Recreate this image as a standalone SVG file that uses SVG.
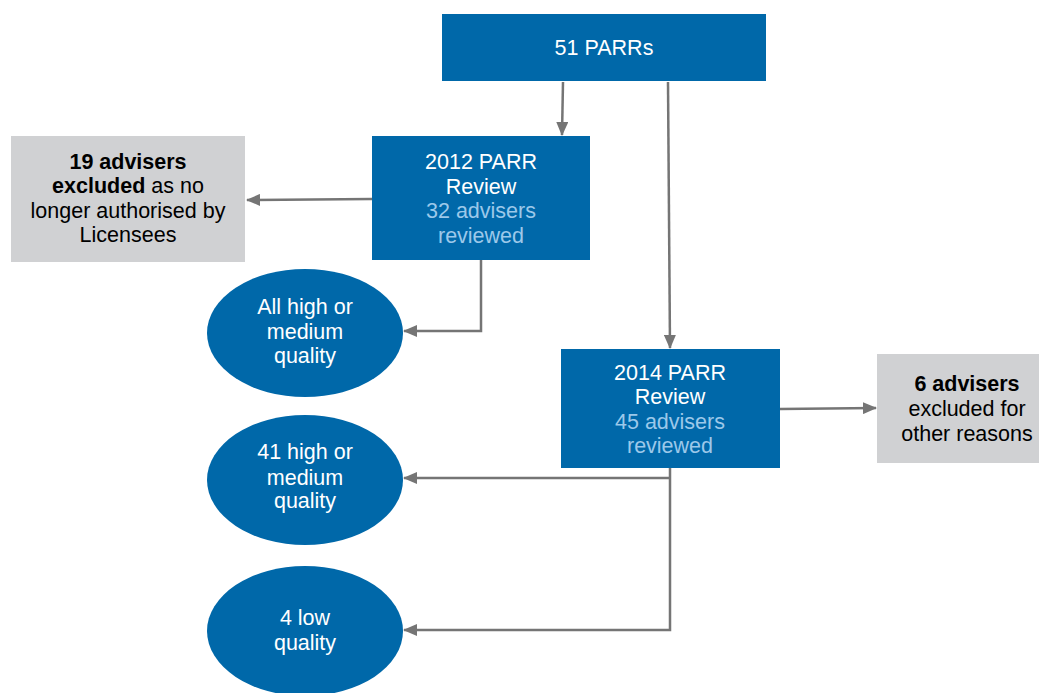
<svg xmlns="http://www.w3.org/2000/svg" width="1039" height="693" viewBox="0 0 1039 693">
<style>
.blue{fill:#0068A9}
.grey{fill:#D0D1D3}
.t{font-family:"Liberation Sans",Arial,sans-serif;font-size:21.5px;text-anchor:middle}
.w{fill:#FFFFFF}
.lb{fill:#9CC8EA}
.k{fill:#000000}
.b{font-weight:bold}
.c{fill:none;stroke:#757575;stroke-width:2.5}
</style>
<defs>
<marker id="ah" viewBox="0 0 14 12" refX="13" refY="6" markerWidth="14" markerHeight="12" markerUnits="userSpaceOnUse" orient="auto">
<path d="M0,0 L14,6 L0,12 Z" fill="#757575"/>
</marker>
</defs>
<rect width="1039" height="693" fill="#FFFFFF"/>
<g id="connectors">
<path class="c" d="M563,82 L562,135" marker-end="url(#ah)"/>
<path class="c" d="M668,82 L670,348" marker-end="url(#ah)"/>
<path class="c" d="M372,199 L247,200" marker-end="url(#ah)"/>
<path class="c" d="M481,260 L481,331 L404,331" marker-end="url(#ah)"/>
<path class="c" d="M780,409 L876,408" marker-end="url(#ah)"/>
<path class="c" d="M670,468 L670,630 L404,630" marker-end="url(#ah)"/>
<path class="c" d="M670,478 L404,478" marker-end="url(#ah)"/>
</g>
<g id="n51">
<rect class="blue" x="442" y="14" width="324" height="67"/>
<text class="t w" x="604" y="55">51 PARRs</text>
</g>
<g id="n2012">
<rect class="blue" x="372" y="136" width="218" height="124"/>
<text class="t w" x="481" y="169">2012 PARR</text>
<text class="t w" x="481" y="194">Review</text>
<text class="t lb" x="481" y="218">32 advisers</text>
<text class="t lb" x="481" y="243">reviewed</text>
</g>
<g id="nexcl19">
<rect class="grey" x="11" y="136" width="234" height="126"/>
<text class="t k" x="128" y="169"><tspan class="b">19 advisers</tspan></text>
<text class="t k" x="128" y="193"><tspan class="b">excluded</tspan> as no</text>
<text class="t k" x="128" y="218">longer authorised by</text>
<text class="t k" x="128" y="242">Licensees</text>
</g>
<g id="nall">
<ellipse class="blue" cx="305" cy="333" rx="98" ry="64"/>
<text class="t w" x="305" y="314">All high or</text>
<text class="t w" x="305" y="339">medium</text>
<text class="t w" x="305" y="363">quality</text>
</g>
<g id="n2014">
<rect class="blue" x="561" y="349" width="219" height="119"/>
<text class="t w" x="670" y="380">2014 PARR</text>
<text class="t w" x="670" y="404">Review</text>
<text class="t lb" x="670" y="429">45 advisers</text>
<text class="t lb" x="670" y="453">reviewed</text>
</g>
<g id="nexcl6">
<rect class="grey" x="877" y="354" width="162" height="109"/>
<text class="t k b" x="967" y="391">6 advisers</text>
<text class="t k" x="967" y="416">excluded for</text>
<text class="t k" x="967" y="441">other reasons</text>
</g>
<g id="n41">
<ellipse class="blue" cx="305" cy="480" rx="98" ry="65"/>
<text class="t w" x="305" y="459">41 high or</text>
<text class="t w" x="305" y="485">medium</text>
<text class="t w" x="305" y="508">quality</text>
</g>
<g id="n4">
<ellipse class="blue" cx="305" cy="631" rx="98" ry="65"/>
<text class="t w" x="305" y="625">4 low</text>
<text class="t w" x="305" y="650">quality</text>
</g>
</svg>
